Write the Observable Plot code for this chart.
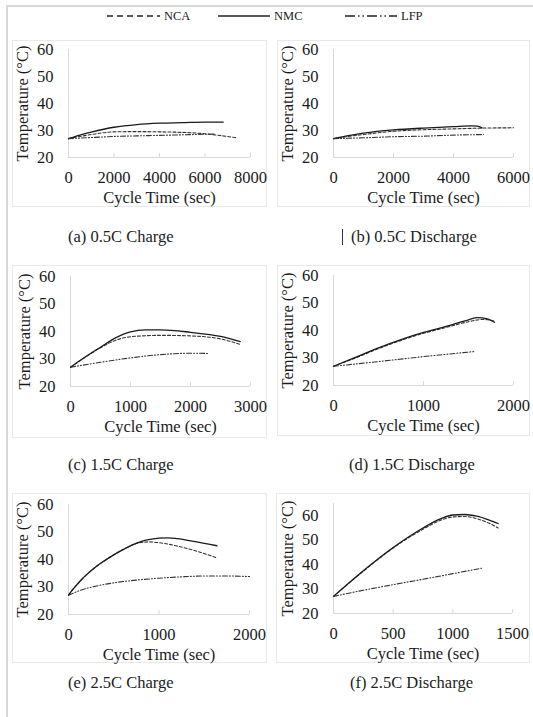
<!DOCTYPE html>
<html><head><meta charset="utf-8">
<script src="https://cdn.jsdelivr.net/npm/d3@7"></script>
<script src="https://cdn.jsdelivr.net/npm/@observablehq/plot@0.6"></script>
<style>
html,body{margin:0;padding:0;background:#fff;}
#root{position:relative;width:533px;height:717px;overflow:hidden;font-family:"Liberation Serif","Times New Roman",serif;color:#222;}
.frame{position:absolute;left:6px;top:5px;width:600px;height:800px;border-left:2px solid #d9d9d9;border-top:2px solid #d9d9d9;}
.box{position:absolute;border:1px solid #e8e8e8;box-sizing:border-box;}
.cap{position:absolute;font-size:16.5px;line-height:20px;white-space:nowrap;}
.abs{position:absolute;}
</style></head><body><div id="root"><div class="frame"></div></div>
<script>
// ---------- data ----------
const seriesNames = ["NCA", "NMC", "LFP"];
const xLabel = "Cycle Time (sec)";
const yLabel = "Temperature (°C)";
const captions = ["(a) 0.5C Charge", "(b) 0.5C Discharge", "(c) 1.5C Charge", "(d) 1.5C Discharge", "(e) 2.5C Charge", "(f) 2.5C Discharge"];
const yTicks = [20, 30, 40, 50, 60];
const xTicksA = [0, 2000, 4000, 6000, 8000];
const xTicksB = [0, 2000, 4000, 6000];
const xTicksC = [0, 1000, 2000, 3000];
const xTicksD = [0, 1000, 2000];
const xTicksE = [0, 1000, 2000];
const xTicksF = [0, 500, 1000, 1500];

// [time (sec), temperature (°C)]
const aNCA = [[0,27],[500,27.8],[1000,28.5],[2000,29.5],[3000,29.6],[4000,29.5],[5000,29.3],[6000,28.8],[6700,28.1],[7400,27.3]];
const aNMC = [[0,27],[500,28.3],[1000,29.4],[2000,31.2],[3000,32.2],[4000,32.7],[5000,32.9],[6000,33.1],[6800,33.1]];
const aLFP = [[0,27],[1000,27.4],[2000,27.8],[3000,28.0],[4000,28.2],[5000,28.4],[6000,28.6],[6400,28.7]];

const bNCA = [[0,27],[500,27.8],[1000,28.5],[2000,29.7],[3000,30.3],[4000,30.6],[5000,30.9],[6000,31.0]];
const bNMC = [[0,27],[500,28.1],[1000,29.0],[2000,30.2],[3000,30.9],[4000,31.4],[4600,31.7],[4800,31.6],[4950,31.0]];
const bLFP = [[0,27],[1000,27.3],[2000,27.7],[3000,27.9],[4000,28.3],[5000,28.5]];

const cNCA = [[0,27],[250,30.7],[500,34.1],[750,36.8],[1000,38.1],[1500,38.6],[2000,38.4],[2500,37.3],[2830,35.3]];
const cNMC = [[0,27],[250,30.8],[500,34.3],[750,37.7],[1000,39.9],[1250,40.6],[1500,40.6],[2000,39.7],[2500,38.2],[2830,36.3]];
const cLFP = [[0,27],[500,28.8],[1000,30.4],[1500,31.6],[1800,32.0],[2000,32.1],[2290,32.0]];

const dNCA = [[0,27],[250,30.1],[500,33.4],[750,36.4],[1000,39.0],[1250,41.1],[1500,43.2],[1650,44.0],[1720,43.9],[1790,43.3]];
const dNMC = [[0,27],[250,30.3],[500,33.7],[750,36.7],[1000,39.3],[1250,41.5],[1500,43.9],[1600,44.7],[1700,44.3],[1790,43.0]];
const dLFP = [[0,27],[500,28.7],[1000,30.5],[1580,32.4]];

const eNCA = [[0,27],[50,29.2],[100,31.1],[150,32.9],[200,34.5],[300,37.3],[400,39.6],[500,41.7],[600,43.6],[700,45.2],[800,46.2],[900,46.4],[1000,46.1],[1100,45.6],[1200,44.9],[1400,43.2],[1550,41.6],[1640,40.6]];
const eNMC = [[0,27],[50,29.2],[100,31.1],[150,32.9],[200,34.5],[300,37.3],[400,39.6],[500,41.7],[600,43.5],[700,45.2],[800,46.5],[900,47.3],[1000,47.8],[1100,47.9],[1200,47.6],[1400,46.5],[1640,45.0]];
const eLFP = [[0,27],[150,29.0],[300,30.3],[500,31.5],[750,32.5],[1000,33.2],[1250,33.7],[1500,34.0],[1750,34.0],[2000,33.8]];

const fNCA = [[0,27],[250,37.3],[500,46.8],[750,54.5],[900,58.2],[1000,59.5],[1100,59.7],[1200,58.8],[1300,57.0],[1380,55.0]];
const fNMC = [[0,27],[250,37.5],[500,47.0],[750,55.0],[900,58.8],[1000,60.3],[1100,60.5],[1200,59.8],[1300,58.3],[1380,56.8]];
const fLFP = [[0,27],[250,29.5],[500,31.8],[750,34.0],[1000,36.3],[1240,38.5]];

// ---------- styles / layout ----------
const styles = {
  NCA: {stroke: "#333", strokeWidth: 1.1, strokeDasharray: "3,2"},
  NMC: {stroke: "#1a1a1a", strokeWidth: 1.3, strokeDasharray: null},
  LFP: {stroke: "#333", strokeWidth: 1.1, strokeDasharray: "5,2,1,2,1,2"}
};
const panels = [
  {box:[12,40,267,207],  plot:[68,49,250,157],  xDomain:[0,8000], yDomain:[20,60], xTicks:xTicksA, data:{NCA:aNCA,NMC:aNMC,LFP:aLFP}, cap:[68,227], bar:false},
  {box:[277,40,530,207], plot:[333,49,513,157], xDomain:[0,6000], yDomain:[20,60], xTicks:xTicksB, data:{NCA:bNCA,NMC:bNMC,LFP:bLFP}, cap:[351,227], bar:true},
  {box:[12,265,267,438], plot:[70,276,250,386], xDomain:[0,3000], yDomain:[20,60], xTicks:xTicksC, data:{NCA:cNCA,NMC:cNMC,LFP:cLFP}, cap:[68,455], bar:false},
  {box:[277,265,530,436],plot:[333,275,513,385],xDomain:[0,2000], yDomain:[20,60], xTicks:xTicksD, data:{NCA:dNCA,NMC:dNMC,LFP:dLFP}, cap:[349,455], bar:false},
  {box:[12,493,267,663], plot:[68,504,249,614], xDomain:[0,2000], yDomain:[20,60], xTicks:xTicksE, data:{NCA:eNCA,NMC:eNMC,LFP:eLFP}, cap:[68,673], bar:false},
  {box:[276,493,530,663],plot:[333,503,512,613],xDomain:[0,1500], yDomain:[20,65], xTicks:xTicksF, data:{NCA:fNCA,NMC:fNMC,LFP:fLFP}, cap:[350,673], bar:false}
];

const root = document.getElementById("root");
const axisColor = "#d9d9d9";
const textColor = "#1a1a1a";
const mL = 62, mT = 14, mR = 34, mB = 54;
const fmt = d => String(d);

panels.forEach((p, i) => {
  const box = document.createElement("div");
  box.className = "box";
  Object.assign(box.style, {left: p.box[0] + "px", top: p.box[1] + "px", width: (p.box[2] - p.box[0]) + "px", height: (p.box[3] - p.box[1]) + "px"});
  root.appendChild(box);

  const W = p.plot[2] - p.plot[0], H = p.plot[3] - p.plot[1];
  const marks = [
    Plot.ruleY([p.yDomain[0]], {stroke: axisColor, strokeWidth: 1}),
    Plot.ruleX([p.xDomain[0]], {stroke: axisColor, strokeWidth: 1}),
    Plot.axisX(p.xTicks, {anchor: "bottom", tickSize: 4, dy: -4, fill: "none", stroke: axisColor, label: null}),
    Plot.axisX(p.xTicks, {anchor: "bottom", tickSize: 0, tickPadding: 14, label: null, fill: textColor, tickFormat: fmt}),
    Plot.axisY(yTicks, {anchor: "left", tickSize: 0, tickPadding: 15, label: null, fill: textColor, tickFormat: fmt}),
    Plot.text([xLabel], {frameAnchor: "bottom", dy: 40, textAnchor: "middle", lineAnchor: "middle", fill: textColor}),
    Plot.text([yLabel], {frameAnchor: "left", rotate: -90, dx: -46, textAnchor: "middle", lineAnchor: "middle", fill: textColor})
  ];
  seriesNames.forEach(s => {
    marks.push(Plot.line(p.data[s], {x: d => d[0], y: d => d[1], curve: "monotone-x", ...styles[s]}));
  });
  const chart = Plot.plot({
    width: W + mL + mR, height: H + mT + mB,
    marginLeft: mL, marginTop: mT, marginRight: mR, marginBottom: mB,
    x: {domain: p.xDomain, axis: null},
    y: {domain: p.yDomain, axis: null},
    style: {fontFamily: '"Liberation Serif","Times New Roman",serif', fontSize: "16.5px", background: "transparent", overflow: "visible", color: textColor},
    marks
  });
  chart.style.position = "absolute";
  chart.style.left = (p.plot[0] - mL) + "px";
  chart.style.top = (p.plot[1] - mT) + "px";
  root.appendChild(chart);

  const cap = document.createElement("div");
  cap.className = "cap";
  cap.textContent = captions[i];
  cap.style.left = p.cap[0] + "px";
  cap.style.top = p.cap[1] + "px";
  root.appendChild(cap);
  if (p.bar) {
    const bar = document.createElement("div");
    bar.className = "abs";
    Object.assign(bar.style, {left: (p.cap[0] - 9) + "px", top: (p.cap[1] + 2) + "px", width: "0px", height: "16px", borderLeft: "1px solid #333"});
    root.appendChild(bar);
  }
});

// ---------- legend ----------
const legendPos = {NCA: [107, 160], NMC: [218, 270], LFP: [345, 397]};
const legendDash = {NCA: "6,4", NMC: null, LFP: "10,3,1.5,3,1.5,3"};
const lg = d3.select(root).append("svg")
  .attr("width", 533).attr("height", 32)
  .style("position", "absolute").style("left", "0px").style("top", "0px");
seriesNames.forEach(s => {
  const [x0, x1] = legendPos[s];
  lg.append("line").attr("x1", x0).attr("x2", x1).attr("y1", 16).attr("y2", 16)
    .attr("stroke", "#222").attr("stroke-width", 1.6)
    .attr("stroke-dasharray", legendDash[s]);
  lg.append("text").attr("x", x1 + 4).attr("y", 16).attr("dy", "0.35em")
    .attr("font-family", '"Liberation Serif","Times New Roman",serif')
    .attr("font-size", 12.5).attr("fill", "#222").text(s);
});
</script></body></html>
